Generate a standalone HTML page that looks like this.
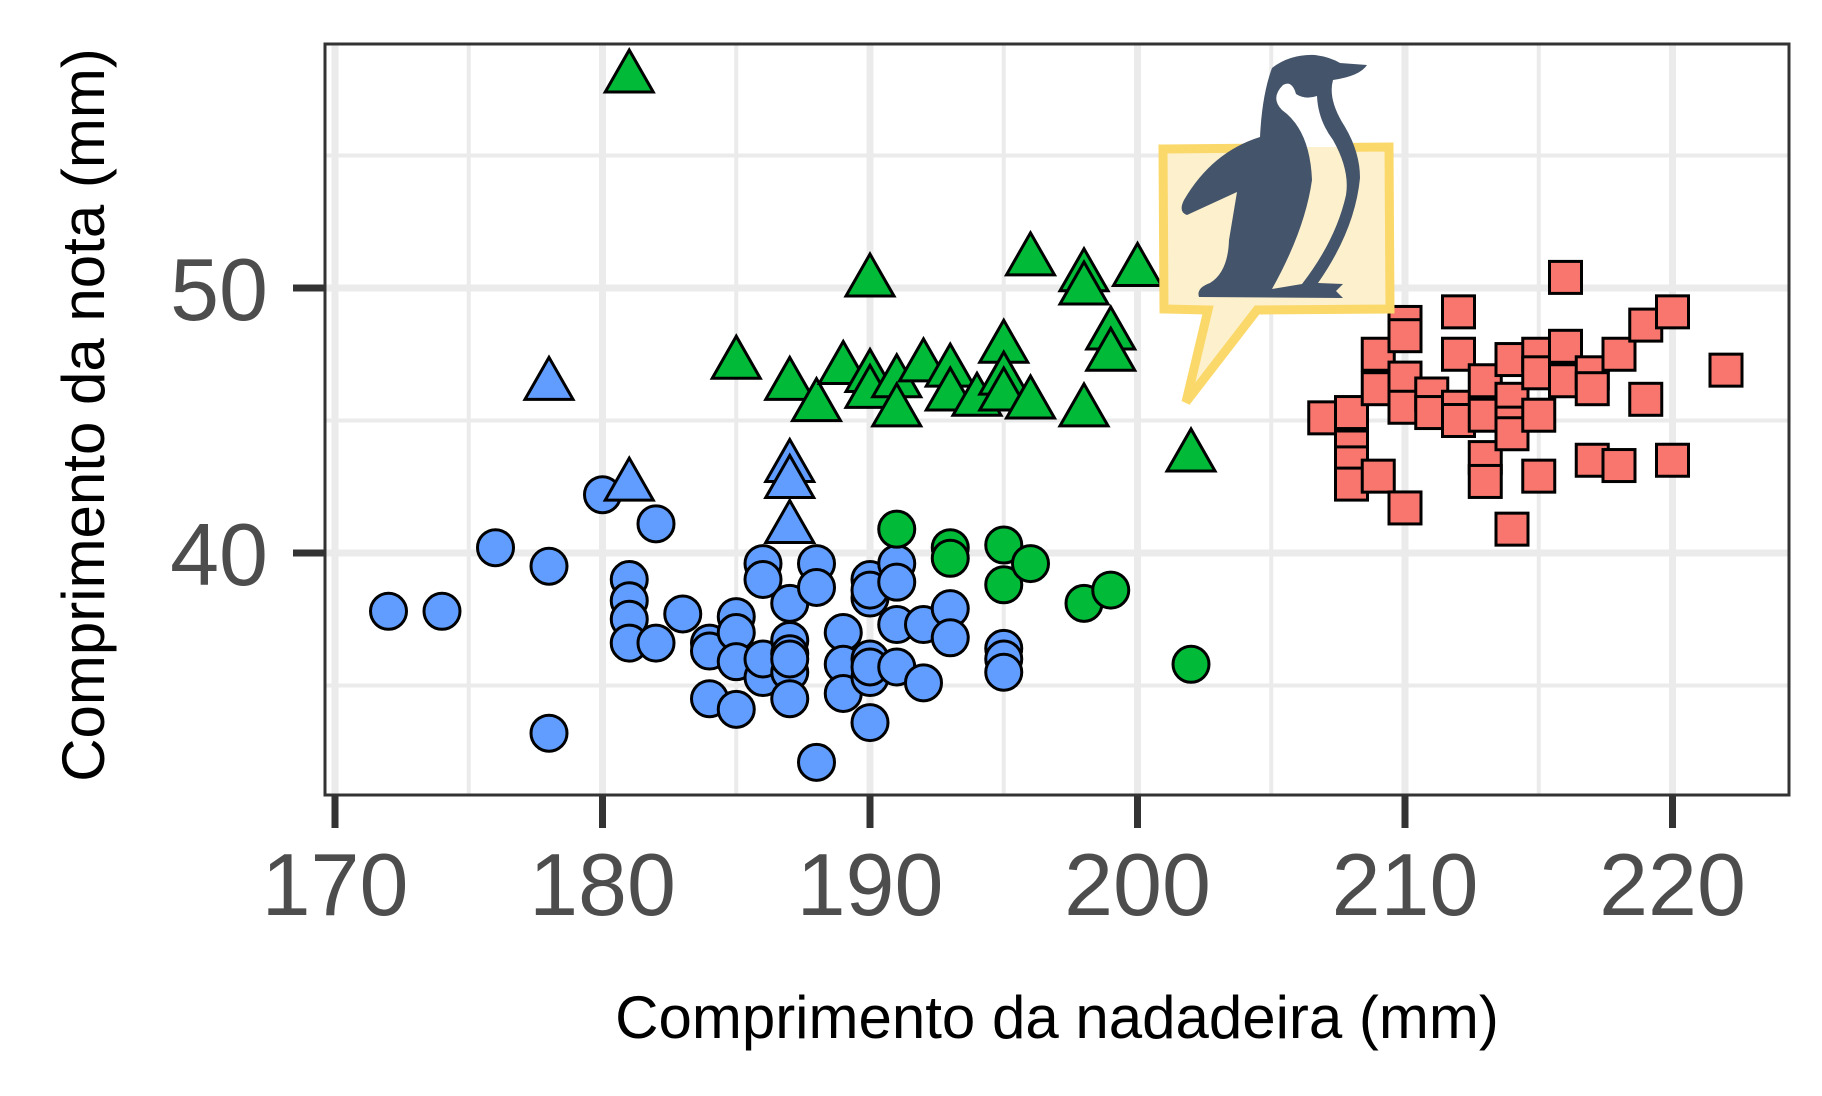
<!DOCTYPE html>
<html><head><meta charset="utf-8"><style>
html,body{margin:0;padding:0;background:#fff;}
svg{display:block;}
</style></head><body>
<svg id="chart" width="1822" height="1096" viewBox="0 0 1822 1096" xmlns="http://www.w3.org/2000/svg" font-family="Liberation Sans, Arial, sans-serif">
<g id="grid"></g>
<g id="points"></g>
<rect x="325" y="44" width="1464" height="751" fill="none" stroke="#333" stroke-width="3"/>
<g id="axes"></g>
<text x="1057" y="1038" font-size="60" text-anchor="middle" fill="#000">Comprimento da nadadeira (mm)</text>
<text transform="translate(104,415) rotate(-90)" font-size="60" text-anchor="middle" fill="#000">Comprimento da nota (mm)</text>
<g>
<defs>
<linearGradient id="bellyFill" gradientUnits="userSpaceOnUse" x1="0" y1="0" x2="0" y2="1096">
<stop offset="0.1341" stop-color="#ffffff"/><stop offset="0.1341" stop-color="#fdf0cc"/>
</linearGradient>
</defs>
<path d="M1163,149 L1389,147 L1390,309 L1257,310 L1186,402 L1208,310 L1164,309 Z" fill="#fdf0cc" stroke="#fbd86a" stroke-width="9" stroke-linejoin="miter"/>
<path d="M1199,297 Q1196,288 1210,283 Q1228,272 1229,240 L1237,192 L1187,215 Q1178,212 1184,200 Q1212,152 1260,137 Q1262,95 1272,68 Q1290,54 1315,55 Q1330,57 1340,63 L1367,65 Q1360,76 1333,80 Q1328,98 1342,122 Q1360,150 1360,178 Q1355,230 1318,283 L1343,284 L1336,291 L1343,298 Z" fill="#44546a"/>
<path d="M1283,85 Q1292,80 1296,94 Q1305,100 1317,96 Q1318,120 1333,140 Q1350,170 1346,195 Q1336,240 1302,284 L1272,289 Q1305,230 1312,180 Q1310,130 1282,110 Q1270,98 1283,85 Z" fill="url(#bellyFill)"/>
</g>
<script>
var xTicks=[170,180,190,200,210,220];
var yTicks=[40,50];
var xMinor=[175,185,195,205,215];
var yMinor=[35,45,55];
var blueCircleX=[172,174,176,178,178,180,182,181,181,181,181,182,183,184,184,184,185,185,185,185,186,186,186,186,187,187,187,187,187,187,188,188,188,189,189,189,190,190,190,190,190,190,190,191,191,191,191,192,192,193,193,195,195,195];
var blueCircleY=[37.8,37.8,40.2,39.5,33.2,42.2,41.1,39.0,38.2,37.5,36.6,36.6,37.7,36.6,36.3,34.5,34.1,37.6,37.0,35.9,39.6,39.0,35.3,36.0,38.1,36.7,36.2,35.5,34.5,36.0,39.6,38.7,32.1,37.0,35.8,34.7,39.0,38.3,38.6,36.0,35.3,33.6,35.7,39.6,38.9,37.3,35.7,37.3,35.1,37.9,36.8,36.4,36.0,35.5];
var blueTriX=[178,181,187,187,187];
var blueTriY=[46.4,42.6,43.3,42.7,41.0];
var greenTriX=[181,185,187,188,189,190,190,190,191,191,192,193,193,194,195,195,195,196,196,198,198,198,199,199,200,202];
var greenTriY=[58.0,47.2,46.4,45.6,47.0,50.3,46.7,46.1,46.5,45.4,47.1,46.9,46.0,45.8,47.8,46.6,46.0,51.1,45.7,50.5,50.0,45.4,48.3,47.5,50.7,43.7];
var greenCircleX=[191,193,193,195,195,196,198,199,202];
var greenCircleY=[40.9,40.2,39.8,40.3,38.8,39.6,38.1,38.6,35.8];
var redSqX=[207,208,208,208,208,209,209,209,210,210,210,210,210,211,211,212,212,212,212,213,213,213,213,214,214,214,214,214,215,215,215,215,216,216,216,217,217,217,218,218,219,219,220,220,222];
var redSqY=[45.1,45.3,44.0,43.4,42.6,47.5,46.2,42.9,48.7,48.2,46.6,45.5,41.7,46.0,45.3,49.1,47.5,45.5,45.0,46.5,43.6,42.7,45.2,47.3,45.8,44.9,44.5,40.9,47.5,46.8,45.2,42.9,50.4,47.8,46.5,46.8,46.2,43.5,47.5,43.3,48.6,45.8,49.1,43.5,46.9];

var NS='http://www.w3.org/2000/svg';
function sx(v){return 335+(v-170)*26.75;}
function sy(v){return 553-(v-40)*26.5;}
function mk(tag,attrs,parent){var e=document.createElementNS(NS,tag);for(var k in attrs)e.setAttribute(k,attrs[k]);parent.appendChild(e);return e;}
var grid=document.getElementById('grid'),pts=document.getElementById('points'),axes=document.getElementById('axes');
xMinor.forEach(function(v){var l=mk('line',{x1:sx(v),x2:sx(v),y1:44,y2:795,stroke:'#ebebeb','stroke-width':4},grid);

});
yMinor.forEach(function(v){var l=mk('line',{x1:325,x2:1789,y1:sy(v),y2:sy(v),stroke:'#ebebeb','stroke-width':4},grid);

});
xTicks.forEach(function(v){var l=mk('line',{x1:sx(v),x2:sx(v),y1:44,y2:795,stroke:'#ebebeb','stroke-width':7},grid);


var t=mk('line',{x1:sx(v),x2:sx(v),y1:795,y2:828,stroke:'#333','stroke-width':7},axes);


var tx=mk('text',{x:sx(v),y:915,'font-size':88,'text-anchor':'middle',fill:'#4d4d4d'},axes);tx.textContent=v;

});
yTicks.forEach(function(v){var l=mk('line',{x1:325,x2:1789,y1:sy(v),y2:sy(v),stroke:'#ebebeb','stroke-width':7},grid);


var t=mk('line',{x1:293,x2:325,y1:sy(v),y2:sy(v),stroke:'#333','stroke-width':7},axes);


var tx=mk('text',{x:268,y:sy(v)+32,'font-size':88,'text-anchor':'end',fill:'#4d4d4d'},axes);tx.textContent=v;

});
function circ(xs,ys,col){xs.forEach(function(x,i){var c=mk('circle',{cx:sx(x),cy:sy(ys[i]),r:18,fill:col,stroke:'#000','stroke-width':3},pts);

});}
function tri(xs,ys,col){xs.forEach(function(x,i){var X=sx(x),Y=sy(ys[i]);var p=mk('polygon',{points:(X)+','+(Y-26)+' '+(X-24)+','+(Y+16)+' '+(X+24)+','+(Y+16),fill:col,stroke:'#000','stroke-width':3,'stroke-linejoin':'miter'},pts);

});}
function sq(xs,ys,col){xs.forEach(function(x,i){var r=mk('rect',{x:sx(x)-16,y:sy(ys[i])-16,width:32,height:32,fill:col,stroke:'#000','stroke-width':3},pts);

});}
circ(blueCircleX,blueCircleY,'#619cff');
tri(blueTriX,blueTriY,'#619cff');
tri(greenTriX,greenTriY,'#00ba38');
circ(greenCircleX,greenCircleY,'#00ba38');
sq(redSqX,redSqY,'#f8766d');
</script>
</svg>
</body></html>
